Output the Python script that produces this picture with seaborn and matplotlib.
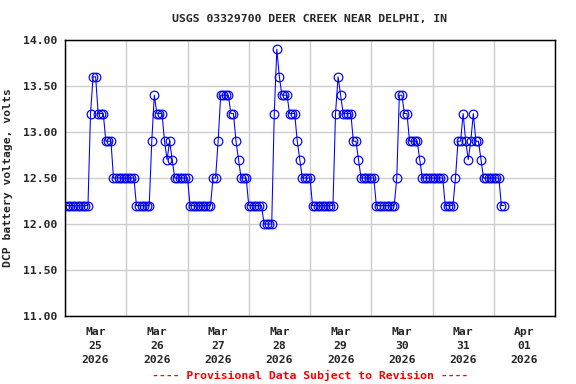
import numpy as np
import pandas as pd
import matplotlib
matplotlib.use("Agg")
import matplotlib.pyplot as plt
import matplotlib.dates as mdates
import seaborn as sns

# Hourly DCP battery voltage readings (volts), starting 2026-03-25 00:00
mar25 = [12.2]*10 + [13.2] + [13.6]*2 + [13.2]*3 + [12.9]*3 + [12.5]*5
mar26 = [12.5]*4 + [12.2]*6 + [12.9, 13.4] + [13.2]*3 + [12.9, 12.7, 12.9, 12.7] + [12.5]*5
mar27 = [12.5] + [12.2]*9 + [12.5]*2 + [12.9] + [13.4]*4 + [13.2]*2 + [12.9, 12.7] + [12.5]*3
mar28 = [12.2]*6 + [12.0]*4 + [13.2, 13.9, 13.6] + [13.4]*3 + [13.2]*3 + [12.9, 12.7] + [12.5]*3
mar29 = [12.5] + [12.2]*9 + [13.2, 13.6, 13.4] + [13.2]*4 + [12.9]*2 + [12.7] + [12.5]*4
mar30 = [12.5]*2 + [12.2]*8 + [12.5] + [13.4]*2 + [13.2]*2 + [12.9]*4 + [12.7] + [12.5]*4
mar31 = [12.5]*5 + [12.2]*4 + [12.5] + [12.9]*2 + [13.2, 12.9, 12.7, 12.9, 13.2] + [12.9]*2 + [12.7] + [12.5]*4
apr01 = [12.5]*3 + [12.2]*2

values = mar25 + mar26 + mar27 + mar28 + mar29 + mar30 + mar31 + apr01
start = "2026-03-25 00:00"
times = pd.date_range(start, periods=len(values), freq="h")
df = pd.DataFrame({"time": times, "volts": values})

title = "USGS 03329700 DEER CREEK NEAR DELPHI, IN"
ylabel = "DCP battery voltage, volts"
footer = "---- Provisional Data Subject to Revision ----"
yticks = [11.0, 11.5, 12.0, 12.5, 13.0, 13.5, 14.0]

sns.set_style("white")
plt.rcParams["font.family"] = ["DejaVu Sans Mono"]
plt.rcParams["font.weight"] = "bold"

fig = plt.figure(figsize=(6, 4), dpi=96)
ax = fig.add_axes([65/576, 1-316/384, 490/576, 276/384])

sns.lineplot(data=df, x="time", y="volts", ax=ax, color="blue", linewidth=0.8,
             marker="o", markersize=6.5, markerfacecolor="none",
             markeredgecolor="blue", markeredgewidth=0.9)

ax.set_xlim(pd.Timestamp("2026-03-25 00:00"), pd.Timestamp("2026-04-02 00:00"))
ax.set_ylim(11.0, 14.0)
ax.set_yticks(yticks)
ax.set_yticklabels([f"{v:.2f}" for v in yticks], fontsize=8.5, fontweight="bold")

ax.xaxis.set_major_locator(mdates.HourLocator(byhour=12))
ax.xaxis.set_major_formatter(mdates.DateFormatter("%b\n%d\n%Y"))
ax.xaxis.set_minor_locator(mdates.DayLocator())
ax.tick_params(axis="x", which="both", length=0, pad=8)
ax.tick_params(axis="y", length=0, pad=6)
plt.setp(ax.get_xticklabels(), fontsize=8.5, fontweight="bold", linespacing=1.5)

ax.grid(False)
ax.grid(True, axis="y", which="major", color="#cccccc", linewidth=1)
ax.grid(True, axis="x", which="minor", color="#cccccc", linewidth=1)
ax.set_axisbelow(True)
for s in ax.spines.values():
    s.set_color("black")
    s.set_linewidth(1.1)

ax.set_xlabel("")
ax.set_ylabel(ylabel, fontsize=8.5, fontweight="bold", labelpad=7)
fig.text(310/576, 1-19/384, title, ha="center", va="center", fontsize=8.6, fontweight="bold")
fig.text(310/576, 1-375/384, footer, ha="center", va="center", fontsize=8.6,
         fontweight="bold", color="red")

fig.savefig("out.png", dpi=96)
